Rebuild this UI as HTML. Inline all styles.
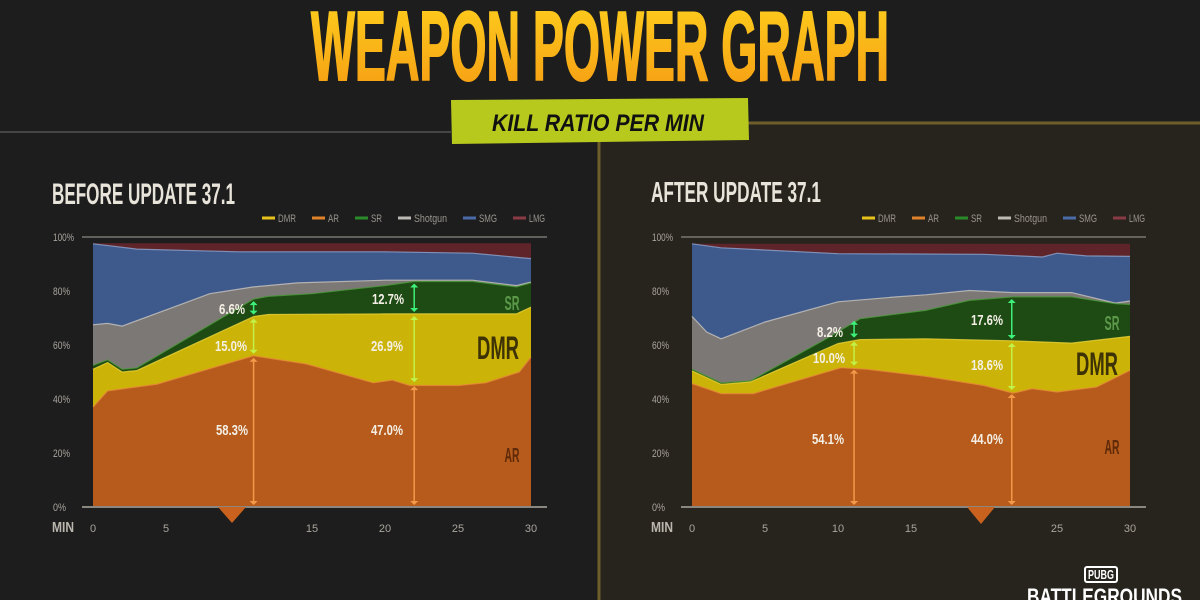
<!DOCTYPE html>
<html><head><meta charset="utf-8"><style>
html,body{margin:0;padding:0;background:#1b1b1b;}
#root{position:relative;width:1200px;height:600px;overflow:hidden;background:#1c1c1c;font-family:"Liberation Sans Narrow","Liberation Sans",sans-serif;}
svg text{font-family:"Liberation Sans Narrow","Liberation Sans",sans-serif;}
</style></head><body><div id="root">
<svg id="s" width="1200" height="600" viewBox="0 0 1200 600" xmlns="http://www.w3.org/2000/svg">
<defs>
<linearGradient id="tg" x1="0" y1="0" x2="0" y2="1"><stop offset="0" stop-color="#ffd21e"/><stop offset="1" stop-color="#f59a12"/></linearGradient>
</defs>
<rect width="1200" height="600" fill="#1d1d1e"/>
<rect x="599" y="123" width="610" height="490" fill="#27241d" stroke="#6e5e2c" stroke-width="3"/>
<line x1="0" y1="132" x2="451" y2="132" stroke="#555" stroke-width="1.5"/>
<text x="600" y="80" text-anchor="middle" font-size="98" font-weight="bold" fill="url(#tg)" stroke="url(#tg)" stroke-width="2" textLength="578" lengthAdjust="spacingAndGlyphs">WEAPON POWER GRAPH</text>
<polygon points="451,100 748,98 749,140 452,144" fill="#b8c91e"/>
<text x="598" y="131" text-anchor="middle" font-size="24" font-weight="bold" font-style="italic" fill="#111" textLength="212" lengthAdjust="spacingAndGlyphs">KILL RATIO PER MIN</text>
<text x="52" y="204" font-size="30" font-weight="bold" fill="#e8e4da" textLength="183" lengthAdjust="spacingAndGlyphs">BEFORE UPDATE 37.1</text>
<text x="651" y="202" font-size="29" font-weight="bold" fill="#e8e4da" textLength="170" lengthAdjust="spacingAndGlyphs">AFTER UPDATE 37.1</text>
<g id="c1"></g><g id="c2"></g>
<rect x="1085" y="567" width="32" height="15" fill="none" stroke="#fff" stroke-width="2" rx="2"/>
<text x="1101" y="579" text-anchor="middle" font-size="13" font-weight="bold" fill="#fff" textLength="26" lengthAdjust="spacingAndGlyphs">PUBG</text>
<text x="1027" y="604" font-size="22" font-weight="bold" fill="#fff" textLength="155" lengthAdjust="spacingAndGlyphs">BATTLEGROUNDS</text>
</svg>
<script>
const NS="http://www.w3.org/2000/svg";
function el(g,tag,a,txt){const e=document.createElementNS(NS,tag);for(const k in a)e.setAttribute(k,a[k]);if(txt!==undefined)e.textContent=txt;g.appendChild(e);return e;}
const Y=v=>507-v*2.7;
function chart(gid,ox,D,arrows,labels,legX,hide){
  const g=document.getElementById(gid);const X=t=>ox+t*14.6;
  const items=[["DMR","#e8c21a",18],["AR","#e0822a",11],["SR","#2a8a2a",11],["Shotgun","#bdbab5",33],["SMG","#4a6aa8",18],["LMG","#8a3a44",16]];
  let lx=legX;
  items.forEach((it)=>{el(g,"line",{x1:lx,y1:218,x2:lx+13,y2:218,stroke:it[1],"stroke-width":3});el(g,"text",{x:lx+16,y:222,"font-size":11,fill:"#9a968e",textLength:it[2],lengthAdjust:"spacingAndGlyphs"},it[0]);lx+=16+it[2]+16;});
  [0,20,40,60,80,100].forEach(v=>el(g,"text",{x:ox-40,y:Y(v)+4,"font-size":11,fill:"#a9a59c",textLength:v==100?21:(v==0?13:17),lengthAdjust:"spacingAndGlyphs"},v+"%"));
  el(g,"line",{x1:ox-11,y1:237,x2:ox+454,y2:237,stroke:"#7a7670","stroke-width":1.5});
  const cols=[["lmg","#5e2429"],["smg","#3e5a8c"],["sg","#7c7875"],["sr","#1e4a14"],["dmr","#cbb307"],["ar","#b65b1b"]];
  const strokes={smg:"#8ea3cc",sg:"#c8c4c0",sr:"#4a9a3a",dmr:"#e8d23a",ar:"#e88a3a"};
  cols.forEach(([k,c])=>{
    let pts=D[k];let p="M"+X(0)+","+Y(0);
    pts.forEach(q=>p+=" L"+X(q[0]).toFixed(1)+","+Y(q[1]).toFixed(1));
    p+=" L"+X(30)+","+Y(0)+"Z";
    el(g,"path",{d:p,fill:c});
    if(strokes[k]){let l="M"+pts.map(q=>X(q[0]).toFixed(1)+","+Y(q[1]).toFixed(1)).join(" L");el(g,"path",{d:l,fill:"none",stroke:strokes[k],"stroke-width":1.2,opacity:0.8});}
  });
  el(g,"line",{x1:ox-11,y1:507,x2:ox+454,y2:507,stroke:"#8a8680","stroke-width":2});
  el(g,"text",{x:ox-41,y:532,"font-size":15,"font-weight":"bold",fill:"#bbb7ae",textLength:22,lengthAdjust:"spacingAndGlyphs"},"MIN");
  [0,5,10,15,20,25,30].forEach(t=>{if(t!==hide)el(g,"text",{x:X(t),y:532,"text-anchor":"middle","font-size":11,fill:"#a9a59c"},t)});
  arrows.forEach(a=>{const x=X(a.t);const segs=[[0,a.v[0],"#f39a4a"],[a.v[0],a.v[1],"#c2f24a"],[a.v[1],a.v[2],"#3ef07a"]];
    segs.forEach(s=>{const y1=Y(s[0])-2,y2=Y(s[1])+2;el(g,"line",{x1:x,y1:y1-3,x2:x,y2:y2+3,stroke:s[2],"stroke-width":1.5});
      el(g,"polygon",{points:`${x-4},${y1-4} ${x+4},${y1-4} ${x},${y1}`,fill:s[2]});
      el(g,"polygon",{points:`${x-4},${y2+4} ${x+4},${y2+4} ${x},${y2}`,fill:s[2]});});
  });
  labels.forEach(l=>{const sz=l[3]||15;const w=l[5]||(l[2].length==5?32:26);el(g,"text",{x:l[0],y:l[1],"text-anchor":"middle","font-size":sz,"font-weight":"bold",fill:l[4]||"#f4f0e6",textLength:w,lengthAdjust:"spacingAndGlyphs"},l[2])});
}
chart("c1",93,{
 lmg:[[0,97.7],[30,97.7]],
 smg:[[0,97.5],[3,95.5],[10,94.5],[20,94.5],[26,94],[30,92]],
 sg:[[0,67.5],[1,68],[2,67],[5,73],[8,79],[11,81.5],[14,83],[20,84],[26,84],[29,82],[30,83.3]],
 sr:[[0,52.5],[1,54.5],[2,51],[3,51.5],[11,77],[12,78],[15,79],[20,82],[22,83.5],[26,83.5],[29,81.5],[30,83]],
 dmr:[[0,51],[1,53.5],[2,50],[3,50.5],[11,70.5],[12,71.3],[20,71.5],[29,71.5],[30,74]],
 ar:[[0,37],[1,43],[4.4,45.5],[11,56],[14.6,53],[19.2,46],[20.5,47],[21.7,45],[25,45],[26.9,46],[29.2,50],[30,55.5]]
},[{t:11,v:[56,70.5,77]},{t:22,v:[45.5,71.5,83.5]}],
[[232,314,"6.6%"],[231,351,"15.0%"],[232,435,"58.3%"],[388,304,"12.7%"],[387,351,"26.9%"],[387,435,"47.0%"],
 [512,310,"SR",20,"#5c9a4a",15],[498,359,"DMR",32,"#3d3204",42],[512,462,"AR",20,"#5e2a0a",15]],262,10);
chart("c2",692,{
 lmg:[[0,97.5],[30,97.5]],
 smg:[[0,97.5],[2,96],[10,93.8],[20,93.6],[24,92.6],[25,94],[27,93],[30,92.8]],
 sg:[[0,70.6],[1,64.8],[2,62.3],[5,68.5],[10,76],[14,77.8],[16,78.6],[19,80.2],[22,79.4],[26,79.4],[29,75.5],[30,76.3]],
 sr:[[0,51],[2,46],[4,46.7],[9,61.7],[11.5,69.7],[16,72.8],[19,76.5],[22,77.8],[26,77.8],[29,75.3],[30,75]],
 dmr:[[0,50.4],[2,45.4],[4,46.3],[10,60.5],[11.5,62],[16,62.3],[22,61.5],[26,60.7],[30,63.2]],
 ar:[[0,45.7],[2,42],[4.2,42],[10.2,51.6],[12,51],[16,48.4],[20,45],[22,42.2],[23.3,43.8],[25,42.6],[27.7,44.4],[30,50.6]]
},[{t:11.1,v:[51.6,62,69.7]},{t:21.9,v:[42.6,61.5,77.8]}],
[[830,337,"8.2%"],[829,363,"10.0%"],[828,444,"54.1%"],[987,325,"17.6%"],[987,370,"18.6%"],[987,444,"44.0%"],
 [1112,330,"SR",20,"#5c9a4a",15],[1097,375,"DMR",32,"#3d3204",42],[1112,454,"AR",20,"#5e2a0a",15]],862,20);
const s=document.getElementById("s");
el(s,"polygon",{points:"218,507 246,507 232,523",fill:"#c8621e"});
el(s,"polygon",{points:"967,507 995,507 981,524",fill:"#c8621e"});
</script>
</div></body></html>
